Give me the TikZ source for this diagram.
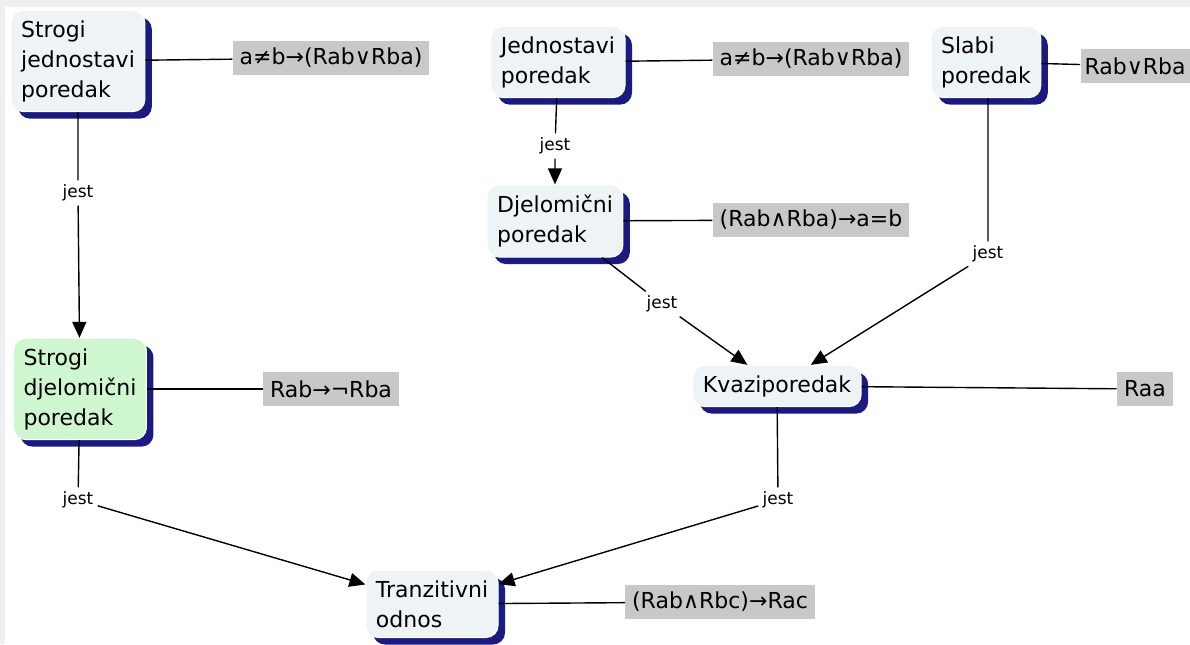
\documentclass[tikz,border=0pt]{standalone}
\usepackage{fontspec}
\setmainfont{DejaVu Sans}
\usetikzlibrary{arrows.meta,shadows}
\definecolor{conceptfill}{HTML}{EEF3F6}
\definecolor{greenfill}{HTML}{CFF7CF}
\definecolor{shadowblue}{HTML}{1A1A80}
\definecolor{labelgray}{HTML}{C8C8C8}
\definecolor{bandgray}{HTML}{EFEFEF}
\tikzset{
  concept/.style={rounded corners=6pt, fill=conceptfill, draw=white, line width=0.5pt,
    align=left, inner xsep=5pt, inner ysep=5pt, font=\fontsize{11}{15}\selectfont,
    drop shadow={shadow xshift=3.5pt, shadow yshift=-3.5pt, fill=shadowblue, opacity=1}},
  formula/.style={fill=labelgray, inner xsep=3.5pt, inner ysep=3pt, minimum height=17pt,
    font=\fontsize{11}{13}\selectfont},
  jestlabel/.style={font=\fontsize{8.5}{10}\selectfont, inner sep=2pt},
  link/.style={line width=0.7pt},
  isa/.style={line width=0.7pt, -{Triangle[length=8pt,width=7pt]}}
}
\begin{document}
\begin{tikzpicture}[x=0.5pt,y=-0.5pt]
\useasboundingbox (0,0) rectangle (1190,644);
\clip (0,0) rectangle (1190,644);
\fill[bandgray] (0,0) rectangle (1190,7);
\fill[bandgray] (0,0) rectangle (5,644);

\node[concept] (strjed) at (78,61) {Strogi\\jednostavi\\poredak};
\node[concept] (jed) at (558,62) {Jednostavi\\poredak};
\node[concept] (slabi) at (986,62) {Slabi\\poredak};
\node[concept] (djel) at (555,221) {Djelomični\\poredak};
\node[concept, fill=greenfill] (strdjel) at (80,389) {Strogi\\djelomični\\poredak};
\node[concept] (kvazi) at (777,386) {Kvaziporedak};
\node[concept] (tranz) at (432,604) {Tranzitivni\\odnos};

\node[formula] (fstrjed) at (331,58) {a≠b→(Rab∨Rba)};
\node[formula] (fjed) at (811,59) {a≠b→(Rab∨Rba)};
\node[formula, anchor=east, inner xsep=2pt] (fslabi) at (1190,66) {Rab∨Rba};
\node[formula] (fdjel) at (811,220) {(Rab∧Rba)→a=b};
\node[formula] (fstrdjel) at (331,389) {Rab→¬Rba};
\node[formula] (fkvazi) at (1145,389) {Raa};
\node[formula] (ftranz) at (720,602) {(Rab∧Rbc)→Rac};

\node[jestlabel] (j1) at (78,193) {jest};
\node[jestlabel] (j2) at (555,146) {jest};
\node[jestlabel] (j3) at (988,254) {jest};
\node[jestlabel] (j4) at (662,304) {jest};
\node[jestlabel] (j5) at (78,500) {jest};
\node[jestlabel] (j6) at (778,500) {jest};

\draw[link] (strjed) -- (fstrjed);
\draw[link] (jed) -- (fjed);
\draw[link] (slabi) -- (fslabi);
\draw[link] (djel) -- (fdjel);
\draw[link] (strdjel) -- (fstrdjel);
\draw[link] (kvazi) -- (fkvazi);
\draw[link] (tranz) -- (ftranz);

\draw[isa] (strjed) -- (j1) -- (strdjel);
\draw[isa] (jed) -- (j2) -- (djel);
\draw[isa] (slabi.south -| j3) -- (j3) -- (kvazi);
\draw[isa] (djel) -- (j4) -- (kvazi);
\draw[isa] (strdjel) -- (j5) -- (tranz);
\draw[isa] (kvazi) -- (j6) -- (tranz);

\end{tikzpicture}
\end{document}
